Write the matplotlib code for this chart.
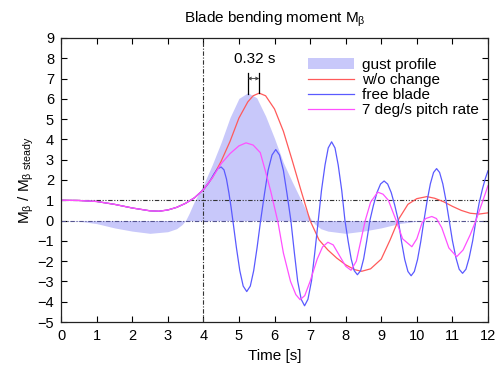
import matplotlib
matplotlib.use('Agg')
import matplotlib.pyplot as plt

plt.rcParams['font.family'] = ['Liberation Sans', 'DejaVu Sans']
plt.rcParams['mathtext.default'] = 'regular'
plt.rcParams['font.size'] = 10.5

# gust profile (filled)
gust_t = [0, 0.5, 1.0, 1.5, 2.0, 2.5, 3.0, 3.25, 3.4, 3.5, 3.6, 3.75, 4.0, 4.25,
          4.5, 4.75, 5.0, 5.25, 5.5, 5.75, 6.0, 6.25, 6.5, 6.75, 6.9, 7.05, 7.15,
          7.3, 7.5, 8.0, 8.5, 9.0, 9.5, 10.0, 10.5, 12.0]
gust_v = [0, -0.03, -0.15, -0.36, -0.52, -0.63, -0.55, -0.4, -0.2, 0.0, 0.35, 0.95,
          1.75, 2.75, 3.85, 5.08, 6.02, 6.3, 6.05, 5.15, 4.05, 2.85, 1.9, 1.0, 0.45,
          0.0, -0.2, -0.4, -0.52, -0.63, -0.52, -0.36, -0.15, -0.03, 0, 0]

# w/o change
red_t = [0, 0.5, 1.0, 1.5, 2.0, 2.5, 2.75, 3.0, 3.25, 3.5, 3.75, 4.0, 4.25, 4.5,
         4.75, 5.0, 5.25, 5.4, 5.57, 5.75, 6.0, 6.25, 6.5, 6.75, 7.0, 7.25, 7.5,
         7.75, 8.0, 8.25, 8.45, 8.7, 9.0, 9.25, 9.5, 9.75, 10.0, 10.28, 10.5,
         10.75, 11.0, 11.25, 11.5, 11.75, 12.0]
red_v = [1.0, 0.99, 0.94, 0.8, 0.62, 0.48, 0.46, 0.52, 0.65, 0.85, 1.12, 1.52, 2.1,
         2.92, 3.9, 5.05, 5.85, 6.15, 6.28, 6.15, 5.5, 4.4, 2.95, 1.45, 0.0, -0.95,
         -1.45, -1.85, -2.18, -2.42, -2.5, -2.38, -1.9, -0.95, 0.1, 0.8, 1.08, 1.18,
         1.1, 0.93, 0.7, 0.5, 0.36, 0.32, 0.38]

# free blade
blue_t = [0, 0.5, 1.0, 1.5, 2.0, 2.5, 2.75, 3.0, 3.25, 3.5, 3.75, 4.0, 4.15, 4.3,
          4.4, 4.5, 4.58, 4.65, 4.72, 4.78,
          4.83, 4.93, 5.025, 5.12, 5.22, 5.32, 5.415, 5.51,
          5.61, 5.72, 5.82, 5.93, 6.035, 6.14, 6.25, 6.35,
          6.46, 6.56, 6.65, 6.75, 6.845, 6.94, 7.04, 7.13,
          7.23, 7.32, 7.42, 7.51, 7.605, 7.70, 7.79, 7.89,
          7.98, 8.07, 8.155, 8.24, 8.33, 8.42, 8.505, 8.59,
          8.68, 8.78, 8.88, 8.98, 9.08, 9.18, 9.28, 9.38,
          9.48, 9.57, 9.66, 9.75, 9.84, 9.93, 10.02, 10.11,
          10.2, 10.29, 10.38, 10.47, 10.555, 10.64, 10.73, 10.82,
          10.91, 11.0, 11.1, 11.19, 11.285, 11.38, 11.47, 11.57,
          11.66, 11.75, 11.85, 11.93, 12.0]
blue_v = [1.0, 0.99, 0.94, 0.8, 0.62, 0.48, 0.46, 0.52, 0.65, 0.85, 1.12, 1.52, 1.85, 2.3,
          2.55, 2.64, 2.5, 2.05, 1.35, 0.65,
          0, -1.34, -2.47, -3.23, -3.5, -3.23, -2.47, -1.34,
          0, 1.34, 2.47, 3.23, 3.5, 3.23, 2.47, 1.34,
          0, -1.61, -2.97, -3.88, -4.2, -3.88, -2.97, -1.61,
          0, 1.48, 2.74, 3.58, 3.88, 3.58, 2.74, 1.48,
          0, -1.02, -1.89, -2.47, -2.67, -2.47, -1.89, -1.02,
          0, 0.75, 1.38, 1.8, 1.95, 1.8, 1.38, 0.75,
          0, -1.04, -1.92, -2.51, -2.72, -2.51, -1.92, -1.04,
          0, 0.98, 1.81, 2.37, 2.56, 2.37, 1.81, 0.98,
          0, -0.99, -1.84, -2.4, -2.6, -2.4, -1.84, -0.99,
          0, 0.85, 1.6, 2.1, 2.45]

# 7 deg/s pitch rate
mag_t = [0, 0.5, 1.0, 1.5, 2.0, 2.5, 2.75, 3.0, 3.25, 3.5, 3.75, 4.0, 4.25, 4.5,
         4.75, 5.0, 5.2, 5.4, 5.6, 5.75, 5.9, 6.1, 6.25, 6.45, 6.6, 6.72, 6.85,
         7.0, 7.2, 7.35, 7.5, 7.65, 7.85, 8.0, 8.15, 8.3, 8.45, 8.55, 8.7, 8.9,
         9.05, 9.2, 9.42, 9.6, 9.86, 10.0, 10.15, 10.25, 10.42, 10.55, 10.7, 10.9,
         11.12, 11.3, 11.5, 11.66, 11.85, 12.0]
mag_v = [1.0, 0.99, 0.94, 0.8, 0.62, 0.48, 0.46, 0.52, 0.65, 0.85, 1.12, 1.52, 2.1,
         2.8, 3.3, 3.68, 3.83, 3.72, 3.35, 2.4, 1.4, -0.1, -1.6, -3.0, -3.65, -3.9,
         -3.7, -3.0, -1.9, -1.3, -1.07, -1.2, -1.8, -2.25, -2.45, -2.0, -0.8, 0.0,
         0.9, 1.4, 1.3, 1.0, 0.0, -0.9, -1.29, -0.9, -0.1, 0.1, 0.2, 0.1, -0.35,
         -1.35, -1.78, -1.45, -0.7, 0.0, 0.95, 1.72]

fig = plt.figure(figsize=(5.0, 3.72), dpi=100)
ax = fig.add_axes([0.122, 0.1344, 0.854, 0.7636])

ax.fill_between(gust_t, 0, gust_v, color='#c8c8fa', lw=0, label='gust profile')
ax.axhline(1, color='#333333', lw=0.8, ls=(0, (4, 1.5, 1, 1.5, 1, 1.5)))
ax.axhline(0, color='#555590', lw=0.8, ls=(0, (4, 1.5, 1, 1.5)))
ax.axvline(4, color='#333333', lw=0.8, ls=(0, (4, 1.5, 1, 1.5)))
ax.plot(red_t, red_v, color='#ff5a5a', lw=0.9, label='w/o change')
ax.plot(blue_t, blue_v, color='#5a5aff', lw=0.9, label='free blade')
ax.plot(mag_t, mag_v, color='#ff50ff', lw=0.9, label='7 deg/s pitch rate')

# 0.32 s delay marker
ax.plot([5.25, 5.25], [6.25, 7.25], color='black', lw=0.9)
ax.plot([5.57, 5.57], [6.28, 7.25], color='black', lw=0.9)
ax.annotate('', xy=(5.25, 7.0), xytext=(5.57, 7.0),
            arrowprops=dict(arrowstyle='<->', lw=0.6, color='#333333',
                            mutation_scale=5, shrinkA=0, shrinkB=0))
ax.text(5.45, 7.95, '0.32 s', ha='center', va='center', fontsize=11)

ax.set_xlim(0, 12)
ax.set_ylim(-5, 9)
ax.set_xticks(range(0, 13))
ax.set_yticks(range(-5, 10))
ax.tick_params(direction='in', top=True, right=True, length=4, width=0.8,
               labelsize=10.5, pad=5)
for s in ax.spines.values():
    s.set_linewidth(0.9)
    s.set_color('#222222')

ax.set_xlabel('Time [s]', fontsize=11)
ax.set_ylabel(r'M$_\beta$ / M$_{\beta\ steady}$', fontsize=11, labelpad=1)
ax.set_title(r'Blade bending moment M$_\beta$', fontsize=11, pad=11)

leg = ax.legend(loc='upper left', bbox_to_anchor=(0.578, 0.93), frameon=False,
                handlelength=3.0, handletextpad=0.55, labelspacing=0.08,
                borderaxespad=0, borderpad=0, fontsize=11)

fig.savefig('out.png', dpi=100)
